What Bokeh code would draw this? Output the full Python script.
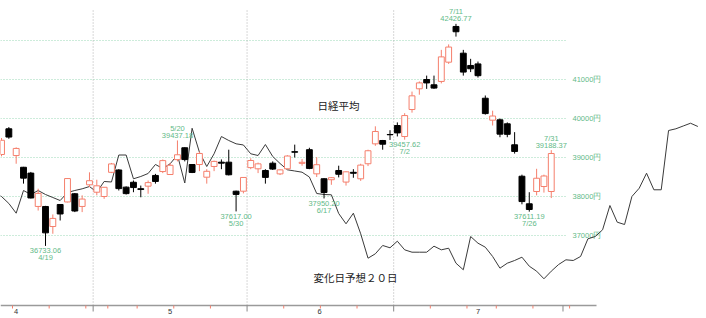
from bokeh.plotting import figure
from bokeh.models import Range1d, ColumnDataSource
from bokeh.core.properties import value
from bokeh.embed import file_html
from bokeh.resources import INLINE

# ---------------- data (Nikkei 225 daily candles) ----------------
dates = ["4/11", "4/12", "4/15", "4/16", "4/17", "4/18", "4/19", "4/22", "4/23", "4/24",
         "4/25", "4/26", "4/30", "5/1", "5/2", "5/7", "5/8", "5/9", "5/10", "5/13",
         "5/14", "5/15", "5/16", "5/17", "5/20", "5/21", "5/22", "5/23", "5/24", "5/27",
         "5/28", "5/29", "5/30", "5/31", "6/3", "6/4", "6/5", "6/6", "6/7", "6/10",
         "6/11", "6/12", "6/13", "6/14", "6/17", "6/18", "6/19", "6/20", "6/21", "6/24",
         "6/25", "6/26", "6/27", "6/28", "7/1", "7/2", "7/3", "7/4", "7/5", "7/8",
         "7/9", "7/10", "7/11", "7/12", "7/16", "7/17", "7/18", "7/19", "7/22", "7/23",
         "7/24", "7/25", "7/26", "7/29", "7/30", "7/31"]
opens = [39077, 39736, 39050, 38750, 38600, 37745, 37744, 37230, 37795, 37860,
         38070, 37745, 38300, 38110, 38000, 38620, 38680, 38240, 38365, 38200,
         38265, 38540, 38640, 38564, 38945, 39250, 38820, 38820, 38495, 38770,
         38880, 38880, 38136, 38136, 38740, 38710, 38667, 38854, 38580, 38710,
         39150, 38850, 39200, 38581, 38455, 38430, 38667, 38370, 38620, 38454,
         38840, 39350, 39436, 39590, 39820, 39538, 40230, 40762, 41000, 40864,
         40950, 41444, 42360, 41675, 41360, 41400, 40520, 39957, 39966, 39864,
         39326, 38520, 37813, 38128, 38256, 38128]
highs = [39500, 39780, 39260, 38760, 38630, 38200, 37760, 37540, 37800, 38470,
         38090, 38030, 38620, 38430, 38240, 38860, 38700, 38260, 38410, 38280,
         38410, 38580, 38950, 38860, 39437.18, 39260, 38830, 39150, 38700, 38920,
         38950, 39200, 38150, 38500, 38980, 38870, 38700, 38900, 38700, 39060,
         39330, 38960, 39250, 39010, 38470, 38500, 38790, 38650, 38700, 38840,
         39200, 39800, 39450, 39700, 39900, 40136, 40690, 40950, 41100, 41100,
         41760, 41900, 42426.77, 41760, 41530, 41460, 40590, 40200, 40000, 39900,
         39650, 38560, 38110, 38710, 38560, 39188.37]
lows = [39030, 39480, 38840, 38330, 37950, 37640, 36733.06, 37045, 37385, 37850,
        37600, 37600, 38240, 38030, 37940, 38600, 38154, 38050, 38110, 37980,
        38070, 38330, 38600, 38560, 38900, 38900, 38600, 38650, 38330, 38650,
        38700, 38540, 37617.00, 38080, 38700, 38600, 38330, 38680, 38550, 38700,
        39000, 38790, 38700, 38500, 37950.20, 38300, 38490, 38280, 38480, 38400,
        38780, 39300, 39200, 39450, 39540, 39457.62, 40150, 40610, 40760, 40760,
        40900, 41400, 42100, 41100, 41190, 41050, 40100, 39820, 39520, 39520,
        39100, 37800, 37611.19, 38030, 38100, 37960]
closes = [39442, 39524, 39232, 38471, 37962, 38080, 37068, 37438, 37552, 38460,
          37628, 37934, 38405, 38274, 38236, 38835, 38202, 38074, 38229, 38179,
          38356, 38386, 38920, 38800, 39070, 38947, 38617, 39103, 38646, 38900,
          38855, 38557, 38054, 38488, 38923, 38837, 38490, 38703, 38683, 39038,
          39135, 38877, 38720, 38815, 38102, 38482, 38570, 38633, 38596, 38805,
          39173, 39667, 39341, 39583, 39631, 40075, 40581, 40913, 40912, 40780,
          41580, 41832, 42224, 41190, 41275, 41098, 40126, 40064, 39599, 39594,
          39155, 37870, 37667, 38468, 38526, 39102]
FIRST_DAY = 8          # trading-day number of the first candle (4/1 = 0)

# "変化日予想２０日" forecast line, one value per trading day from day 7 on
forecast = [38103, 38000, 37821, 37572, 38154, 38051, 38154, 38051, 37974, 37897,
            38103, 38154, 38197, 38256, 38110, 38385, 38372, 39064, 39064, 38454,
            38513, 38590, 38821, 38718, 38838, 39064, 38346, 39750, 39136, 38769,
            39095, 39538, 39436, 39351, 39321, 39095, 39051, 39333, 39026, 38846,
            38685, 38654, 38623, 38500, 38077, 38051, 38044, 37564, 37300, 37572,
            37044, 36418, 36531, 36744, 36685, 36854, 36633, 36572, 36572, 36572,
            36726, 36633, 36674, 36290, 36121, 36974, 36803, 36700, 36462, 36162,
            36290, 36359, 36444, 36213, 36085, 35890, 36085, 36256, 36377, 36359,
            36462, 36915, 36974, 37146, 37769, 37341, 37282, 38000, 38213, 38597,
            38172, 38172, 39692, 39736, 39808, 39879, 39795]
FC_START = 7

grid_prices = [37000, 38000, 39000, 40000, 41000, 42000]
price_labels = ["37000円", "38000円", "39000円", "40000円", "41000円"]
month_labels = ["4", "5", "6", "7"]
month_label_day = [10, 31, 51.4, 73]
month_bounds = [20.5, 41.5, 61.5]
week_starts = [10, 15, 20, 23, 27, 32, 37, 47, 52, 57, 67, 72, 76, 81, 86]
high_marks = ["5/20", "7/11", "7/31"]
low_marks = ["4/19", "5/30", "6/17", "7/2", "7/26"]

# ---------------- geometry ----------------
W, H = 706, 318
PX_PER_DAY = 7.33
PX_PER_YEN = 0.039
x_lo = 14 - 45 / PX_PER_DAY
x_hi = x_lo + W / PX_PER_DAY
y_hi = 40000 + 118 / PX_PER_YEN
y_lo = y_hi - H / PX_PER_YEN


def px_x(px):
    return x_lo + px / PX_PER_DAY


def px_y(py):
    return y_hi - py / PX_PER_YEN


RED = "#f57f6c"
GREEN = "#5fba88"
GRID = "#9ad8b6"

p = figure(width=W, height=H, output_backend="svg", toolbar_location=None,
           x_range=Range1d(x_lo, x_hi), y_range=Range1d(y_lo, y_hi),
           x_axis_location=None, y_axis_location=None, min_border=0)
p.outline_line_color = None
p.grid.visible = False
p.background_fill_color = "white"
p.border_fill_color = "white"

# horizontal dotted grid lines
grid_end = px_x(567)
p.segment(x0=[x_lo] * len(grid_prices), y0=grid_prices,
          x1=[grid_end] * len(grid_prices), y1=grid_prices,
          line_color=GRID, line_width=1, line_dash="1 2")
p.text(x=[grid_end] * len(price_labels), y=grid_prices[:len(price_labels)], text=price_labels,
       x_offset=5, text_font=value("Liberation Sans"), text_font_size="7.5px",
       text_color=GREEN, text_align="left", text_baseline="middle")

# month boundary vertical dotted lines
base_y = px_y(305)
top_y = px_y(8)
p.segment(x0=month_bounds, y0=[base_y] * len(month_bounds),
          x1=month_bounds, y1=[top_y] * len(month_bounds),
          line_color="#b0b0b0", line_width=1, line_dash="1 2")

# bottom axis line and ticks
p.segment(x0=[x_lo], y0=[base_y], x1=[px_x(596)], y1=[base_y], line_color="#9a9a9a", line_width=1.5)
mt = month_bounds + [84.6]
p.segment(x0=mt, y0=[base_y] * len(mt), x1=mt, y1=[px_y(311)] * len(mt),
          line_color="#888888", line_width=1)
wt = [w - 0.5 for w in week_starts]
p.segment(x0=wt, y0=[base_y] * len(wt), x1=wt, y1=[px_y(308)] * len(wt),
          line_color=RED, line_width=1)
p.text(x=month_label_day, y=[px_y(311)] * len(month_labels), text=month_labels,
       text_font=value("Liberation Sans"), text_font_size="7.5px", text_color="#333333",
       text_align="center", text_baseline="middle")

# forecast line
fx = [FC_START + k for k in range(len(forecast))]
p.line(fx, forecast, line_color="#3a3a3a", line_width=1)

# candles
xs = [FIRST_DAY + k for k in range(len(dates))]
up = [c >= o for o, c in zip(opens, closes)]
src = ColumnDataSource(dict(
    x=xs, high=highs, low=lows,
    top=[max(o, c) for o, c in zip(opens, closes)],
    bottom=[min(o, c) for o, c in zip(opens, closes)],
    col=[RED if u else "#000000" for u in up],
    fill=["#ffffff" if u else "#000000" for u in up],
))
p.segment(x0="x", y0="high", x1="x", y1="low", line_color="col", line_width=1, source=src)
p.vbar(x="x", width=0.8, top="top", bottom="bottom", fill_color="fill",
       line_color="col", line_width=1, source=src)

# high / low annotations
for d in high_marks:
    k = dates.index(d)
    p.text(x=[xs[k], xs[k]], y=[highs[k], highs[k]], text=[f"{highs[k]:.2f}", d],
           y_offset=[-5, -12], text_font=value("Liberation Sans"), text_font_size="7.5px",
           text_color=GREEN, text_align="center", text_baseline="middle")
for d in low_marks:
    k = dates.index(d)
    p.text(x=[xs[k], xs[k]], y=[lows[k], lows[k]], text=[f"{lows[k]:.2f}", d],
           y_offset=[5, 12], text_font=value("Liberation Sans"), text_font_size="7.5px",
           text_color=GREEN, text_align="center", text_baseline="middle")

# titles
p.text(x=[px_x(338), px_x(355)], y=[px_y(105), px_y(277)], text=["日経平均", "変化日予想２０日"],
       text_font=value("Noto Sans CJK JP"), text_font_size="10.5px", text_color="#222222",
       text_align="center", text_baseline="middle")

open("out.html", "w").write(file_html(p, INLINE))
